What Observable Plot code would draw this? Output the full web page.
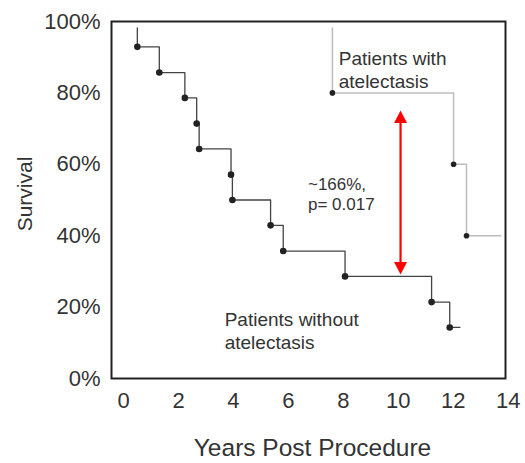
<!DOCTYPE html>
<html>
<head>
<meta charset="utf-8">
<script src="https://cdn.jsdelivr.net/npm/d3@7"></script>
<script src="https://cdn.jsdelivr.net/npm/@observablehq/plot@0.6"></script>
<style>
  html, body { margin: 0; padding: 0; background: #fff; }
</style>
</head>
<body>
<div id="chart"></div>
<script>
// Patients without atelectasis (dark curve)
const withoutStartSurv = 98.2;
const withoutTimes = [0.50, 1.30, 2.23, 2.66, 2.75, 3.91, 3.96, 5.35, 5.81, 8.06, 11.21, 11.87];
const withoutSurv  = [92.9, 85.7, 78.6, 71.4, 64.3, 57.1, 50.0, 42.9, 35.7, 28.6, 21.4, 14.3];
const withoutEnd = 12.24;

// Patients with atelectasis (light curve)
const withStartSurv = 98.2;
const withTimes = [7.60, 12.01, 12.48];
const withSurv  = [80.0, 60.0, 40.0];
const withEnd = 13.73;

// Difference arrow
const arrowYear = 10.08;
const arrowTop = 75.1;
const arrowBottom = 29.1;

// Tick labels
const xTicks = [0, 2, 4, 6, 8, 10, 12, 14];
const yTicks = [0, 20, 40, 60, 80, 100];

// Annotation texts
const notes = [
  {x: 7.83, y: 86.6, text: "Patients with\natelectasis", size: 19},
  {x: 6.71, y: 51.8, text: "~166%,\np= 0.017", size: 17},
  {x: 3.68, y: 13.6, text: "Patients without\natelectasis", size: 19}
];

function stepPath(times, surv, startSurv, end) {
  const pts = [{t: times[0], s: startSurv}];
  times.forEach((t, i) => pts.push({t, s: surv[i]}));
  pts.push({t: end, s: surv[surv.length - 1]});
  return pts;
}
const withoutPath = stepPath(withoutTimes, withoutSurv, withoutStartSurv, withoutEnd);
const withPath = stepPath(withTimes, withSurv, withStartSurv, withEnd);
const withoutDots = withoutTimes.map((t, i) => ({t, s: withoutSurv[i]}));
const withDots = withTimes.map((t, i) => ({t, s: withSurv[i]}));

const headUp = {draw(ctx) { ctx.moveTo(0, 0); ctx.lineTo(6.5, 12.5); ctx.lineTo(-6.5, 12.5); ctx.closePath(); }};
const headDown = {draw(ctx) { ctx.moveTo(0, 0); ctx.lineTo(6.5, -12.5); ctx.lineTo(-6.5, -12.5); ctx.closePath(); }};

const font = "'Liberation Sans', Arial, Helvetica, sans-serif";

const chart = Plot.plot({
  width: 525,
  height: 463,
  marginLeft: 111,
  marginRight: 20,
  marginTop: 21,
  marginBottom: 85,
  style: {fontFamily: font, color: "#333", background: "#fff"},
  x: {domain: [-0.44, 13.9]},
  y: {domain: [0, 100]},
  marks: [
    Plot.axisX({ticks: xTicks, tickSize: 0, tickPadding: 14, fontSize: 22, fill: "#333", label: null}),
    Plot.axisY({ticks: yTicks, tickSize: 0, tickPadding: 11, fontSize: 22, fill: "#333", label: null, tickFormat: d => d + "%"}),
    Plot.line(withPath, {x: "t", y: "s", curve: "step-after", stroke: "#bdbdbd", strokeWidth: 1.5}),
    Plot.line(withoutPath, {x: "t", y: "s", curve: "step-after", stroke: "#444", strokeWidth: 1.3}),
    Plot.dot(withDots, {x: "t", y: "s", r: 2.8, fill: "#222"}),
    Plot.dot(withoutDots, {x: "t", y: "s", r: 3.3, fill: "#222"}),
    Plot.ruleX([arrowYear], {y1: arrowBottom + 2, y2: arrowTop - 2, stroke: "#ff0000", strokeWidth: 2.2}),
    Plot.dot([{x: arrowYear, y: arrowTop}], {x: "x", y: "y", symbol: headUp, fill: "#ff0000", stroke: "none"}),
    Plot.dot([{x: arrowYear, y: arrowBottom}], {x: "x", y: "y", symbol: headDown, fill: "#ff0000", stroke: "none"}),
    Plot.text(notes, {x: "x", y: "y", text: "text", fontSize: d => d.size, textAnchor: "start", lineHeight: 1.2, fill: "#333"}),
    Plot.text(["Years Post Procedure"], {frameAnchor: "bottom", textAnchor: "middle", dx: 4, dy: 77, fontSize: 24.5, fill: "#333"}),
    Plot.text(["Survival"], {frameAnchor: "left", textAnchor: "middle", dx: -86, dy: -6, rotate: -90, fontSize: 21, fill: "#333"}),
    Plot.frame({stroke: "#222", strokeWidth: 2})
  ]
});
document.getElementById("chart").appendChild(chart);
</script>
</body>
</html>
